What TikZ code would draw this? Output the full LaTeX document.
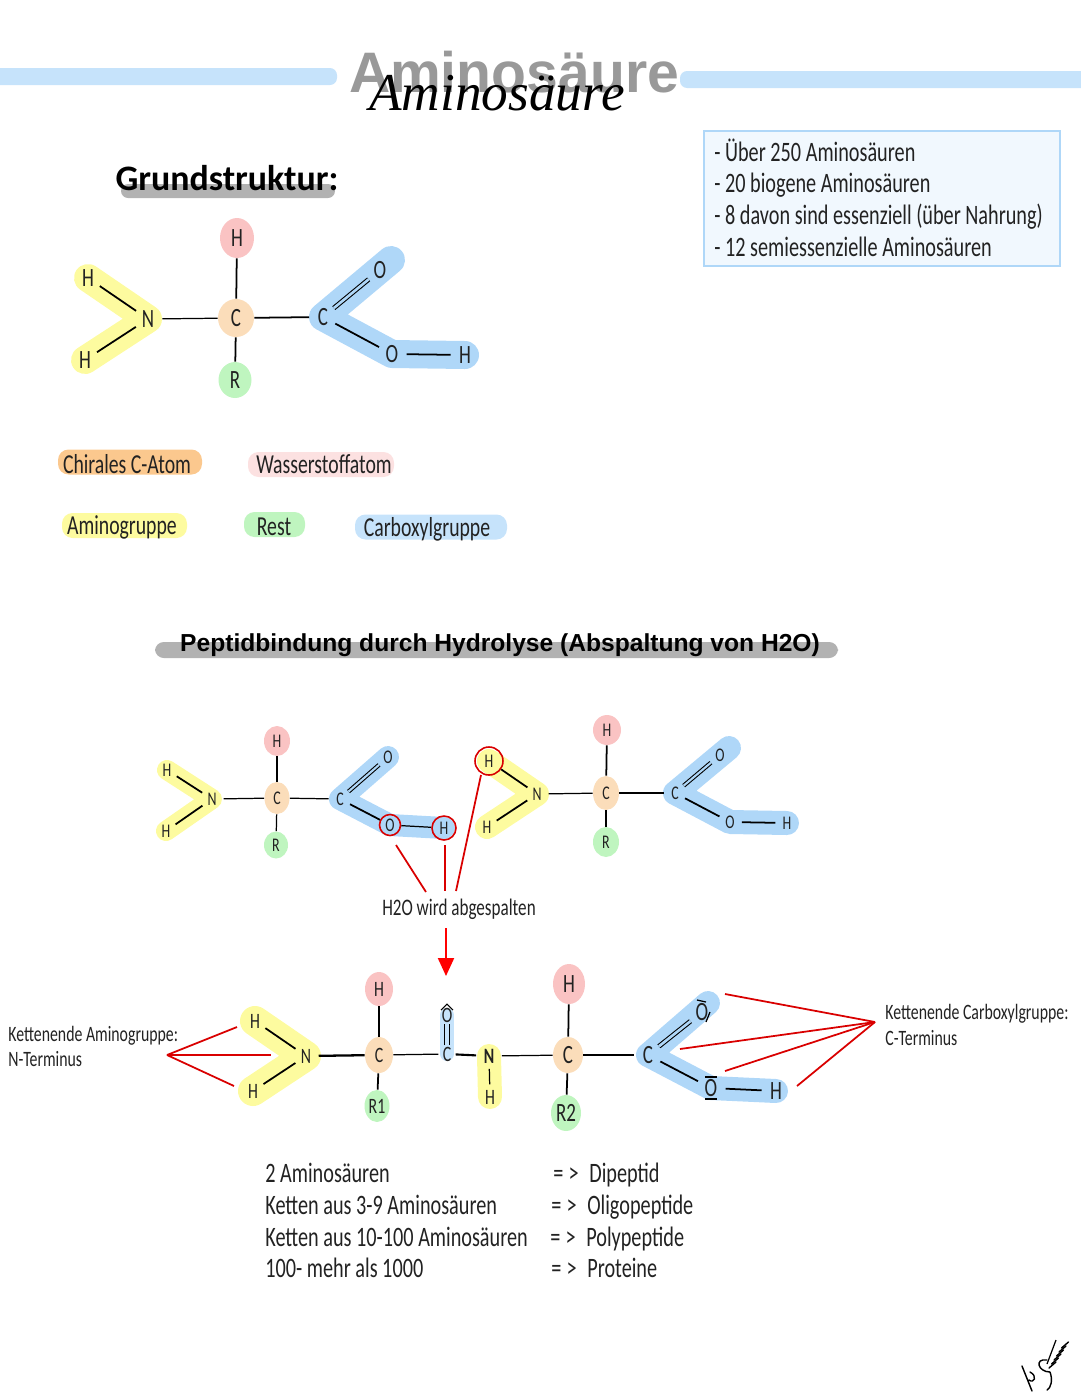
\documentclass[tikz,border=0pt]{standalone}
\usepackage{fontspec}
\usetikzlibrary{positioning,shapes.geometric,backgrounds,arrows.meta}
\newfontfamily\handfont[FakeStretch=0.72]{Carlito}
\newfontfamily\grundfont{Carlito}
\newfontfamily\headfont{Liberation Sans}
\newfontfamily\titlefont{Liberation Serif}
\newcommand{\handsize}[1]{\handfont\fontsize{#1}{#1}\selectfont}
\definecolor{barblue}{HTML}{C6E3FB}
\definecolor{carbblue}{HTML}{AFD7F8}
\definecolor{amyellow}{HTML}{FDFB9F}
\definecolor{hpink}{HTML}{FAC3C3}
\definecolor{cpeach}{HTML}{FBDDBA}
\definecolor{corange}{HTML}{FBC88E}
\definecolor{rgreen}{HTML}{BFF5BF}
\definecolor{textgrey}{HTML}{222222}
\begin{document}
\begin{tikzpicture}[x=0.02cm,y=-0.02cm,
    ell/.style 2 args={ellipse,inner sep=0pt,minimum width=#1*0.02cm,minimum height=#2*0.02cm},
    hnode/.style={fill=hpink},
    cnode/.style={fill=cpeach},
    rnode/.style={fill=rgreen},
    atom/.style={circle,inner sep=1.5pt},
    bond/.style={draw=black,line width=1pt},
    dbond/.style={draw=black,line width=0.6pt,double=carbblue,double distance=1.5pt},
    yband/.style={draw=amyellow,line cap=round,line join=round},
    bband/.style={draw=carbblue,line cap=round,line join=round},
    pill/.style={rounded corners=6pt,inner sep=0pt,minimum height=25*0.02cm},
    legtext/.style={inner sep=0pt,font=\handsize{15.6},text=textgrey,anchor=base},
    plain/.style={inner sep=0pt,font=\handsize{16},text=textgrey,anchor=base west},
    small/.style={inner sep=0pt,font=\handsize{12.5},text=textgrey,anchor=base west},
    redline/.style={draw=red!85!black,line width=1pt},
    redring/.style={draw=red!85!black,line width=0.9pt,circle,inner sep=0pt}
  ]
  \useasboundingbox (0,0) rectangle (1080,1394);

  % title
  \fill[barblue,rounded corners=4pt] (-10,68) rectangle (337,85);
  \fill[barblue,rounded corners=4pt] (680,71) rectangle (1090,88);
  \node[text=black!40,font=\headfont\bfseries\fontsize{32.5}{32.5}\selectfont,inner sep=0pt] (title) at (514,72) {Aminosäure};
  \node[font=\titlefont\itshape\fontsize{30.3}{30.3}\selectfont,inner sep=0pt] (subtitle) at (497,93) {Aminosäure};

  % Grundstruktur
  \fill[black!30,rounded corners=4pt] (121,184) rectangle (335,198);
  \node[font=\grundfont\bfseries\fontsize{20.4}{20.4}\selectfont,inner sep=0pt] (grund) at (227,178) {Grundstruktur:};

  % info box
  \node[draw=carbblue,fill=barblue!25,line width=1pt,minimum width=356*0.02cm,minimum height=135*0.02cm,inner sep=0pt] (infobox) at (882,198.5) {};
  \node[plain] (info1) at (714,161) {- Über 250 Aminosäuren};
  \node[plain] (info2) at (714,192) {- 20 biogene Aminosäuren};
  \node[plain] (info3) at (714,224) {- 8 davon sind essenziell (über Nahrung)};
  \node[plain] (info4) at (714,256) {- 12 semiessenzielle Aminosäuren};

  % first molecule
  \begin{scope}[every node/.append style={font=\handsize{15},text=textgrey}]
    \node[hnode,ell={34}{40}] (ah) at (237,238) {H};
    \node[cnode,ell={36}{38}] (ac) at (236,318) {C};
    \node[rnode,ell={33}{36}] (ar) at (235,380) {R};
    \node[atom] (an) at (148,319) {N};
    \node[atom] (ah1) at (88,278) {H};
    \node[atom] (ah2) at (85,360) {H};
    \node[atom] (ac2) at (323,317) {C};
    \node[atom] (ao1) at (380,270) {O};
    \node[atom] (ao2) at (392,354) {O};
    \node[atom] (ah3) at (465,355) {H};
    \coordinate (aend) at (391,260);
  \end{scope}
  \path[bond]
      (ah) edge (ac)
      (ac) edge (ar)
      (an) edge[line width=0.7pt] (ac)
      (ac) edge (ac2)
      (an) edge (ah1)
      (an) edge (ah2)
      (ac2) edge (ao2)
      (ao2) edge (ah3)
      (ac2) edge[dbond] (ao1);

  % legend
  \node[pill,fill=corange,minimum width=144*0.02cm] (leg1) at (130,462) {};
  \node[pill,fill=hpink!50,minimum width=146*0.02cm] (leg2) at (321,464.5) {};
  \node[pill,fill=amyellow,minimum width=125*0.02cm] (leg3) at (124.5,525.5) {};
  \node[pill,fill=rgreen,minimum width=61*0.02cm] (leg4) at (274.5,524.5) {};
  \node[pill,fill=barblue,minimum width=152*0.02cm] (leg5) at (431,527) {};
  \node[legtext] (legt1) at (127,473) {Chirales C-Atom};
  \node[legtext] (legt2) at (324,473) {Wasserstoffatom};
  \node[legtext] (legt3) at (122,534) {Aminogruppe};
  \node[legtext] (legt4) at (274,535) {Rest};
  \node[legtext] (legt5) at (427,536) {Carboxylgruppe};

  % Peptidbindung
  \fill[black!30,rounded corners=5pt] (155,642) rectangle (838,658);
  \node[font=\headfont\bfseries\fontsize{14}{14}\selectfont,inner sep=0pt] (peptid) at (500,645) {Peptidbindung durch Hydrolyse (Abspaltung von H2O)};

  % second line, two amino acids
  \begin{scope}[every node/.append style={font=\handsize{11},text=textgrey}]
    \node[hnode,ell={26}{30}] (bh) at (277,741) {H};
    \node[cnode,ell={25}{32}] (bc) at (277,798) {C};
    \node[rnode,ell={24}{27}] (br) at (276,845) {R};
    \node[atom] (bn) at (212,799) {N};
    \node[atom] (bh1) at (167,770) {H};
    \node[atom] (bh2) at (166,831) {H};
    \node[atom] (bc2) at (340,799) {C};
    \node[atom] (bo1) at (388,757) {O};
    \node[redring,minimum size=21*0.02cm] (bo2) at (390,825) {O};
    \node[redring,minimum size=24*0.02cm] (bh3) at (444,828) {H};
    \node[redring,minimum size=28*0.02cm] (dh1) at (489,761) {H};
    \node[atom] (dh2) at (487,827) {H};
    \node[atom] (dn) at (537,794) {N};
    \node[hnode,ell={28}{30}] (dh) at (607,730) {H};
    \node[cnode,ell={26}{34}] (dc) at (606,793) {C};
    \node[rnode,ell={26}{30}] (dr) at (606,842) {R};
    \node[atom] (dc2) at (675,793) {C};
    \node[atom] (do1) at (720,755) {O};
    \node[atom] (do2) at (730,822) {O};
    \node[atom] (dh3) at (787,823) {H};
    \coordinate (dend) at (729,748);
  \end{scope}
  \path[bond]
      (bh) edge (bc)
      (bc) edge[line width=0.7pt] (br)
      (bn) edge[line width=0.7pt] (bc)
      (bc) edge[line width=0.7pt] (bc2)
      (bn) edge (bh1)
      (bn) edge (bh2)
      (bc2) edge (bo2)
      (bo2) edge[line width=0.7pt] (bh3)
      (bc2) edge[dbond,double distance=1.2pt] (bo1)
      (dh) edge (dc)
      (dc) edge (dr)
      (dn) edge[line width=0.7pt] (dc)
      (dc) edge (dc2)
      (dn) edge (dh1)
      (dn) edge (dh2)
      (dc2) edge (do2)
      (do2) edge (dh3)
      (dc2) edge[dbond,double distance=1.2pt] (do1);

  % splitting off water
  \node[small,anchor=base,font=\handsize{13.5}] (water) at (459,915) {H2O wird abgespalten};
  \coordinate (wl) at (426,892);
  \coordinate (wm) at (445,891);
  \coordinate (wr) at (456,891);
  \coordinate (bo2end) at (396,845);
  \coordinate (bh3end) at (445,845);
  \coordinate (dh1end) at (481,775);
  \path[redline]
      (bo2end) edge (wl)
      (bh3end) edge[line width=1.3pt] (wm)
      (dh1end) edge (wr);
  \coordinate (arrowtop) at (446,928);
  \coordinate (arrowtip) at (446,976);
  \draw[redline,red,line width=1.2pt,-{Triangle[length=18*0.02cm,width=16*0.02cm]}] (arrowtop) -- (arrowtip);

  % dipeptide
  \begin{scope}[every node/.append style={font=\handsize{12.5},text=textgrey}]
    \node[hnode,ell={28}{34}] (ph) at (379,989) {H};
    \node[cnode,ell={28}{36}] (pc) at (379,1055) {C};
    \node[rnode,ell={25}{32}] (pr) at (377,1106) {R1};
    \node[atom] (pn) at (306,1056) {N};
    \node[atom] (ph1) at (255,1021) {H};
    \node[atom] (ph2) at (253,1091) {H};
    \node[atom,inner sep=0pt] (qc) at (447,1054) {C};
    \node[atom,inner sep=0pt] (qo) at (447,1015) {O};
    \node[atom,font=\handfont\bfseries\fontsize{12.5}{12.5}\selectfont] (qn) at (489,1056) {N};
    \node[atom] (qh) at (490,1097) {H};
    \node[hnode,ell={32}{40},font=\handsize{15}] (sh) at (569,984) {H};
    \node[cnode,ell={30}{36},font=\handsize{15}] (sc) at (568,1055) {C};
    \node[rnode,ell={30}{36},font=\handsize{15}] (sr) at (566,1113) {R2};
    \node[atom,font=\handsize{15}] (sc2) at (648,1055) {C};
    \node[atom,font=\handsize{15}] (so1) at (702,1012) {O};
    \node[atom,font=\handsize{15}] (so2) at (711,1088) {O};
    \node[atom,font=\handsize{15}] (sh3) at (776,1091) {H};
    \coordinate (send) at (708,1003);
  \end{scope}
  \path[bond]
      (ph) edge (pc)
      (pc) edge (pr)
      (pn) edge[line width=1.3pt] (pc)
      (pc) edge[line width=0.7pt] (qc)
      (pn) edge (ph1)
      (pn) edge (ph2)
      (qc) edge[line width=1.2pt] (qn)
      (qn) edge[line width=0.7pt] (qh)
      (qn) edge[line width=0.7pt] (sc)
      (sh) edge (sc)
      (sc) edge (sr)
      (sc) edge (sc2)
      (sc2) edge (so2)
      (so2) edge (sh3)
      (sc2) edge[dbond] (so1)
      (qc) edge[dbond,double=barblue,double distance=2pt] (qo);
  % free electron pairs
  \draw[line width=0.6pt] (441,1010) -- (447,1004) -- (453,1010);
  \draw[line width=0.7pt] (697,1000) -- (706,1002);
  \draw[line width=0.7pt] (710,1012) -- (706,1022);
  \draw[line width=0.7pt] (705,1077) -- (717,1077);
  \draw[line width=0.7pt] (705,1099) -- (717,1099);

  % termini
  \node[small] (nterm1) at (8,1041) {Kettenende Aminogruppe:};
  \node[small] (nterm2) at (8,1066) {N-Terminus};
  \node[small] (cterm1) at (885,1019) {Kettenende Carboxylgruppe:};
  \node[small] (cterm2) at (885,1045) {C-Terminus};
  \coordinate (napex) at (167,1055);
  \coordinate (na) at (237,1027);
  \coordinate (nb) at (271,1055);
  \coordinate (nc) at (234,1086);
  \coordinate (capex) at (875,1022);
  \coordinate (ca) at (725,994);
  \coordinate (cb) at (680,1049);
  \coordinate (cc) at (725,1071);
  \coordinate (cd) at (797,1086);
  \path[redline]
      (napex) edge (na)
      (napex) edge[line width=0.7pt] (nb)
      (napex) edge (nc)
      (capex) edge (ca)
      (capex) edge (cb)
      (capex) edge (cc)
      (capex) edge (cd);

  % summary table
  \node[plain] (sum1) at (265,1182) {2 Aminosäuren};
  \node[plain] (sum2) at (265,1214) {Ketten aus 3-9 Aminosäuren};
  \node[plain] (sum3) at (265,1246) {Ketten aus 10-100 Aminosäuren};
  \node[plain] (sum4) at (265,1277) {100- mehr als 1000};
  \node[plain] (pep1) at (553,1182) {=\kern3pt>\kern6pt Dipeptid};
  \node[plain] (pep2) at (551,1214) {=\kern3pt>\kern6pt Oligopeptide};
  \node[plain] (pep3) at (550,1246) {=\kern3pt>\kern6pt Polypeptide};
  \node[plain] (pep4) at (551,1277) {=\kern3pt>\kern6pt Proteine};

  % signature
  \draw[line width=0.8pt,line cap=round]
      (1022,1366) -- (1032,1391)
      (1030,1372) .. controls (1038,1376) and (1034,1384) .. (1029,1380)
      (1047,1360) .. controls (1034,1358) and (1038,1372) .. (1050,1372)
      (1050,1372) .. controls (1053,1380) and (1051,1388) .. (1047,1390);
  \foreach \i in {0,...,5}
    \draw[line width=0.8pt,line cap=round] (1049+2.5*\i,1368-4*\i) -- (1056+2.5*\i,1362-4*\i);
  \draw[line width=0.7pt] (1047,1364) -- (1056,1340);

  % colour bands
  \begin{pgfonlayer}{background}
    \draw[yband,line width=28*0.02cm] (ah1.center) -- (an.center) -- (ah2.center);
    \draw[bband,line width=28*0.02cm] (aend) -- (ac2.center) -- (ao2.center) -- (ah3.center);
    \draw[yband,line width=20*0.02cm] (bh1.center) -- (bn.center) -- (bh2.center);
    \draw[bband,line width=22*0.02cm] (bo1.center) -- (bc2.center) -- (bo2.center) -- (bh3.center);
    \draw[yband,line width=24*0.02cm] (dh1.center) -- (dn.center) -- (dh2.center);
    \draw[bband,line width=24*0.02cm] (dend) -- (dc2.center) -- (do2.center) -- (dh3.center);
    \draw[yband,line width=30*0.02cm] (ph1.center) -- (pn.center) -- (ph2.center);
    \draw[bband,draw=barblue,line width=14*0.02cm] (qo.center) -- (qc.center);
    \draw[yband,line width=24*0.02cm] (qn.center) -- (qh.center);
    \draw[bband,line width=24*0.02cm] (send) -- (sc2.center) -- (so2.center) -- (sh3.center);
  \end{pgfonlayer}
\end{tikzpicture}
\end{document}
